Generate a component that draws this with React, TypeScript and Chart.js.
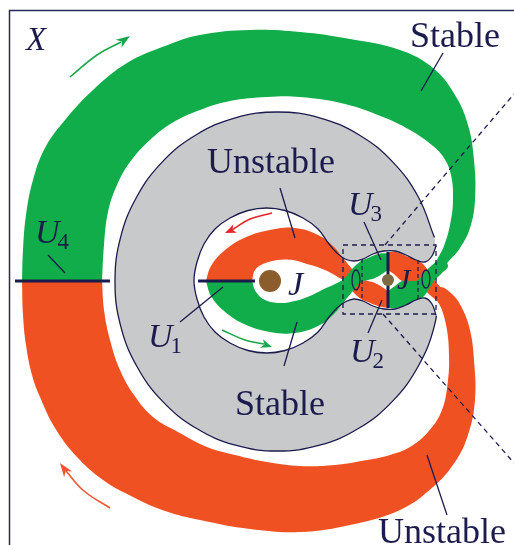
import { useEffect, useRef } from 'react';
import { Chart, registerables } from 'chart.js';

Chart.register(...registerables);

type P = [number, number];

// ---- colours ----
const INK = '#1c1b4d';
const STABLE = '#10ad4a';
const UNSTABLE = '#f05122';
const FORBIDDEN = '#c8c9cb';

// ---- regions (figure units: x to the right, y downwards) ----
const forbiddenRealm: P[] = [
  [440, 281.5], [434.5, 325.4], [418.2, 366.3], [392.4, 401.4], [358.8, 428.3], [319.6, 445.2],
  [277.5, 451], [235.4, 445.2], [196.3, 428.3], [162.6, 401.4], [136.8, 366.3], [120.5, 325.4],
  [115, 281.5], [120.5, 237.6], [136.8, 196.8], [162.6, 161.6], [196.3, 134.7], [235.4, 117.8],
  [277.5, 112], [319.6, 117.8], [358.8, 134.7], [392.4, 161.6], [418.2, 196.8], [434.5, 237.6],
];

const realmBoundary: P[] = [
  [436, 246], [432, 256], [425, 262], [416, 260], [406, 255], [395, 251], [384, 251], [373, 254],
  [363, 259], [354, 261], [345, 259], [337, 253], [329, 244], [318, 229], [303, 218], [285, 210.5],
  [266.5, 208], [248, 210.5], [230, 218], [215, 229], [204, 244], [197, 262], [194, 280.5],
  [197, 299], [204, 317], [215, 332], [230, 343], [248, 350.5], [266.5, 353], [285, 350.5],
  [303, 343], [318, 332], [329, 317], [337, 308], [345, 302], [354, 299], [363, 301], [373, 306],
  [384, 309], [395, 309], [406, 305], [416, 300], [425, 298], [432, 304], [436, 315],
];
const realmOpening: P[] = [[448, 238], [448, 323]];

const outerStableTube: P[] = [
  [22, 281], [22, 281], [23, 250], [26, 215], [33, 180], [45, 148], [65, 120], [93, 90], [127, 63],
  [165, 46], [200, 35], [250, 30], [300, 32], [350, 39], [400, 50], [433, 68], [455, 95], [468, 125],
  [474, 160], [475, 200], [470, 228], [460, 248], [448, 262], [440, 270], [436, 264], [444, 246],
  [450, 225], [453, 200], [451, 175], [444, 158], [433, 146], [410, 130], [383, 117], [345, 104],
  [300, 97], [267, 97], [230, 101], [200, 110], [172, 123], [150, 140], [130, 162], [117, 185],
  [108, 212], [104, 245], [102, 281], [102, 281],
];

const outerUnstableTube: P[] = [
  [22, 281], [22, 281], [23, 315], [26, 345], [32, 375], [40, 397], [55, 428], [77, 457], [103, 480],
  [133, 497], [165, 511], [200, 520], [250, 529], [300, 532], [350, 525], [400, 510], [433, 487],
  [455, 462], [468, 435], [475, 400], [474, 360], [470, 330], [462, 308], [452, 294], [440, 287],
  [436, 296], [442, 310], [447, 330], [449, 355], [448, 380], [442, 410], [428, 432], [410, 447],
  [390, 455], [367, 460], [335, 465], [300, 466], [267, 462], [235, 455], [207, 447], [178, 432],
  [153, 417], [134, 395], [120, 370], [110, 340], [104, 310], [102, 281], [102, 281],
];

const innerUnstableTube: P[] = [
  [206, 281], [211, 266], [224, 251], [244, 238], [270, 230], [295, 228], [318, 235], [333, 246],
  [343, 258], [352, 269], [361, 279], [368, 281], [375, 283], [382, 287], [388, 291], [388, 291],
  [388, 308], [388, 308], [378, 306], [368, 302], [361, 299], [352, 291], [343, 282], [330, 281],
  [206, 281],
];

const innerStableTube: P[] = [
  [206, 281], [211, 296], [224, 311], [244, 324], [270, 332], [295, 333], [318, 326], [333, 315],
  [343, 303], [352, 292], [361, 282], [368, 280], [375, 278], [382, 274], [388, 270], [388, 270],
  [388, 253], [388, 253], [378, 254], [368, 258], [361, 261], [352, 269], [343, 279], [330, 281],
  [206, 281],
];

const moonUnstableTube: P[] = [
  [388, 252], [388, 252], [396, 252], [406, 256], [416, 260], [423, 264], [429, 272], [435, 281],
  [442, 289], [448, 296], [442, 304], [436, 300], [430, 295], [424, 289], [418, 282], [410, 281],
  [402, 281], [395, 275], [388, 270], [388, 270],
];

const moonStableTube: P[] = [
  [388, 308], [388, 308], [396, 308], [406, 305], [416, 300], [423, 297], [429, 289], [435, 280],
  [442, 273], [448, 266], [442, 258], [436, 262], [430, 267], [424, 273], [418, 280], [410, 281],
  [402, 281], [395, 286], [388, 291], [388, 291],
];

const primaryHole: P[] = [
  [252, 281], [255, 270], [263, 264], [278, 260], [293, 260], [307, 264], [320, 268], [331, 273],
  [343, 280], [343, 280], [335, 284], [322, 290], [310, 296], [295, 301], [280, 303], [265, 300],
  [256, 292], [252, 281],
];

// ---- Lyapunov orbits at the two bottlenecks ----
const orbitL1: P[] = [
  [360, 280], [358.8, 287.1], [356, 290], [353.2, 287.1], [352, 280], [353.2, 272.9], [356, 270],
  [358.8, 272.9], [360, 280],
];
const orbitL2: P[] = [
  [430, 279], [428.8, 285.4], [426, 288], [423.2, 285.4], [422, 279], [423.2, 272.6], [426, 270],
  [428.8, 272.6], [430, 279],
];

// ---- bodies ----
const primaryBody: P[] = [[270, 281]];
const secondaryBody: P[] = [[388, 280]];

// ---- lines ----
const frame: P[] = [[9.5, 545], [9.5, 10.5], [514, 10.5]];
const sectionU4: P[] = [[15, 281], [110, 281]];
const sectionU1: P[] = [[198, 281], [255, 281]];
const sectionU23: P[] = [[388, 252], [388, 308]];
const zoomBox: P[] = [[343, 245], [436, 245], [436, 314], [343, 314], [343, 245]];
const zoomRayUpper: P[] = [[385, 245], [514, 94]];
const zoomRayLower: P[] = [[383, 314], [514, 463]];
const neckMarks: P[][] = [
  [[362, 259], [362, 300]],
  [[418, 260], [418, 299]],
];
const leaders: P[][] = [
  [[443, 53], [421, 91]],
  [[280, 188], [295, 238]],
  [[297, 322], [284, 366]],
  [[427, 455], [447, 515]],
  [[48, 255], [65, 273]],
  [[223, 287], [180, 322]],
  [[364, 222], [381, 260]],
  [[382, 300], [368, 333]],
];

// ---- flow arrows ----
const arrowOuterStable: P[] = [[70, 77], [97, 55], [121, 42]];
const arrowOuterStableHead: P[] = [[130, 36], [121.2, 48], [121.7, 41.6], [115.6, 39.8], [130, 36]];
const arrowOuterUnstable: P[] = [[110, 508], [84, 491], [66, 471]];
const arrowOuterUnstableHead: P[] = [[60, 463], [72.2, 471.4], [65.8, 471.1], [64.1, 477.2], [60, 463]];
const arrowInnerUnstable: P[] = [[272, 213], [250, 219], [232, 230]];
const arrowInnerUnstableHead: P[] = [[225, 233], [236.9, 232.8], [232.4, 229.9], [233.3, 224.6], [225, 233]];
const arrowInnerStable: P[] = [[222, 330], [245, 340], [264, 344]];
const arrowInnerStableHead: P[] = [[272, 347], [260.1, 347.8], [264.4, 344.4], [263, 339.2], [272, 347]];

// ---- text ----
const plainLabels = [
  { text: 'X', x: 26, y: 50, size: 33, italic: true },
  { text: 'Stable', x: 410, y: 47, size: 36, italic: false },
  { text: 'Unstable', x: 207, y: 173, size: 36, italic: false },
  { text: 'Stable', x: 235, y: 415, size: 36, italic: false },
  { text: 'Unstable', x: 378, y: 543, size: 36, italic: false },
  { text: 'J', x: 288, y: 295, size: 34, italic: true },
  { text: 'J', x: 397, y: 289, size: 30, italic: true },
];
const sectionLabels = [
  { sub: '1', x: 148, y: 347 },
  { sub: '2', x: 350, y: 362 },
  { sub: '3', x: 348, y: 215 },
  { sub: '4', x: 35, y: 243 },
];

const SERIF = '"Liberation Serif", "DejaVu Serif", serif';

const toXY = (a: P[]) => a.map(([x, y]) => ({ x, y }));

function region(data: P[], color: string, tension = 0.4) {
  return {
    data: toXY(data),
    showLine: true,
    fill: 'shape',
    backgroundColor: color,
    borderColor: 'rgba(0,0,0,0)',
    borderWidth: 0,
    pointRadius: 0,
    tension,
  };
}

function stroke(data: P[], color: string, width: number, dash: number[] = [], tension = 0) {
  return {
    data: toXY(data),
    showLine: true,
    fill: false,
    borderColor: color,
    borderWidth: width,
    borderDash: dash,
    borderCapStyle: 'butt',
    pointRadius: 0,
    tension,
  };
}

function body(data: P[], color: string, radius: number) {
  return {
    data: toXY(data),
    showLine: false,
    pointRadius: radius,
    pointBackgroundColor: color,
    pointBorderWidth: 0,
    pointBorderColor: color,
  };
}

const textPlugin = {
  id: 'figureText',
  afterDatasetsDraw(chart: any) {
    const { ctx, scales } = chart;
    const sx = scales.x;
    const sy = scales.y;
    ctx.save();
    ctx.fillStyle = INK;
    ctx.textBaseline = 'alphabetic';
    ctx.textAlign = 'left';
    for (const l of plainLabels) {
      ctx.font = `${l.italic ? 'italic ' : ''}${l.size}px ${SERIF}`;
      ctx.fillText(l.text, sx.getPixelForValue(l.x), sy.getPixelForValue(l.y));
    }
    for (const s of sectionLabels) {
      const px = sx.getPixelForValue(s.x);
      const py = sy.getPixelForValue(s.y);
      ctx.font = `italic 34px ${SERIF}`;
      ctx.fillText('U', px, py);
      const w = ctx.measureText('U').width;
      ctx.font = `23px ${SERIF}`;
      ctx.fillText(s.sub, px + w - 2, py + 6);
    }
    ctx.restore();
  },
};

export default function App() {
  const ref = useRef<HTMLCanvasElement>(null);

  useEffect(() => {
    if (!ref.current) return;
    const datasets: any[] = [
      region(forbiddenRealm, FORBIDDEN),
      stroke(forbiddenRealm, INK, 1.3, [], 0.4),
      region([realmOpening[0], ...realmBoundary, realmOpening[1]], '#ffffff'),
      region(outerStableTube, STABLE),
      region(outerUnstableTube, UNSTABLE),
      region(innerUnstableTube, UNSTABLE),
      region(innerStableTube, STABLE),
      region(moonUnstableTube, UNSTABLE),
      region(moonStableTube, STABLE),
      region(primaryHole, '#ffffff'),
      stroke(realmBoundary, INK, 1.3, [], 0.4),
      stroke(frame, '#2a2a5a', 1.5),
      stroke(zoomBox, INK, 1.3, [5, 4]),
      stroke(zoomRayUpper, INK, 1.3, [5, 4]),
      stroke(zoomRayLower, INK, 1.3, [5, 4]),
      ...neckMarks.map((m) => stroke(m, INK, 1.2, [4, 3])),
      stroke(orbitL1, INK, 1.3, [], 0.4),
      stroke(orbitL2, INK, 1.3, [], 0.4),
      ...leaders.map((l) => stroke(l, INK, 1.3)),
      stroke(sectionU4, INK, 3),
      stroke(sectionU1, INK, 3),
      stroke(sectionU23, INK, 3),
      body(primaryBody, '#8c5d2c', 11),
      body(secondaryBody, '#7b6a43', 6),
      stroke(arrowOuterStable, '#18a84b', 1.6, [], 0.4),
      region(arrowOuterStableHead, '#18a84b', 0),
      stroke(arrowOuterUnstable, '#ee5533', 1.6, [], 0.4),
      region(arrowOuterUnstableHead, '#ee5533', 0),
      stroke(arrowInnerUnstable, '#e8262a', 1.6, [], 0.4),
      region(arrowInnerUnstableHead, '#e8262a', 0),
      stroke(arrowInnerStable, '#18a84b', 1.6, [], 0.4),
      region(arrowInnerStableHead, '#18a84b', 0),
    ];
    // later entries are painted on top
    datasets.forEach((d, i) => (d.order = -i));

    const chart = new Chart(ref.current, {
      type: 'scatter',
      data: { datasets },
      options: {
        animation: false,
        responsive: false,
        events: [],
        layout: { padding: 0, autoPadding: false },
        plugins: { legend: { display: false }, tooltip: { enabled: false } },
        scales: {
          x: { type: 'linear', min: 0, max: 514, display: false },
          y: { type: 'linear', min: 0, max: 545, reverse: true, display: false },
        },
      },
      plugins: [textPlugin],
    } as any);
    return () => chart.destroy();
  }, []);

  return (
    <div style={{ position: 'fixed', left: 0, top: 0, width: 514, height: 545, background: '#ffffff' }}>
      <canvas ref={ref} width={514} height={545} style={{ display: 'block' }} />
    </div>
  );
}
